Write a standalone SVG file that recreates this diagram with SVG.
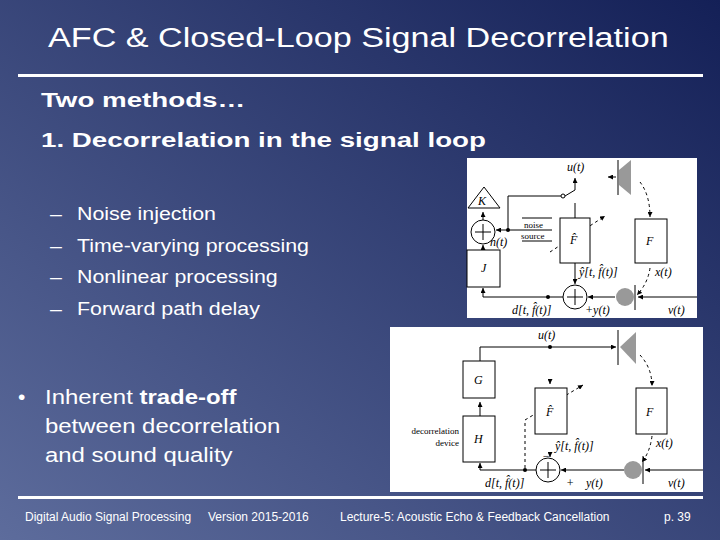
<svg xmlns="http://www.w3.org/2000/svg" width="720" height="540" viewBox="0 0 720 540">
<defs>
<linearGradient id="bg" x1="1" y1="0" x2="0" y2="1">
<stop offset="0" stop-color="#142057"/>
<stop offset="1" stop-color="#5d6c9c"/>
</linearGradient>
<marker id="a" viewBox="0 0 6 6" refX="6" refY="3" markerWidth="5" markerHeight="5" orient="auto"><path d="M0,0L6,3L0,6z" fill="#000"/></marker>
<style>
.t{font-family:"Liberation Sans",Arial,sans-serif;fill:#fff}
.b{font-weight:bold}
.f{font-family:"Liberation Serif",serif;font-style:italic;font-size:12px;fill:#000}
.s{font-family:"Liberation Serif",serif;font-size:9px;fill:#000}
.l{stroke:#000;stroke-width:1;fill:none}
.d{stroke:#000;stroke-width:1;fill:none;stroke-dasharray:3,3}
.bx{fill:#fff;stroke:#000;stroke-width:1}
</style>
</defs>
<rect width="720" height="540" fill="url(#bg)"/>
<text class="t" transform="translate(48,47) scale(1.22,1)" font-size="28">AFC &amp; Closed-Loop Signal Decorrelation</text>
<rect x="18" y="74" width="685" height="3" fill="#fff"/>
<g class="t b" font-size="21" transform="translate(41,0) scale(1.32,1)">
<text x="0" y="107">Two methods…</text>
<text x="0" y="147">1. Decorrelation in the signal loop</text>
</g>
<g class="t" font-size="19" transform="translate(50,0) scale(1.125,1)">
<text x="0" y="220">–</text><text x="24" y="220">Noise injection</text>
<text x="0" y="252">–</text><text x="24" y="252">Time-varying processing</text>
<text x="0" y="283">–</text><text x="24" y="283">Nonlinear processing</text>
<text x="0" y="315">–</text><text x="24" y="315">Forward path delay</text>
</g>
<text class="t" x="18" y="404" font-size="21">•</text>
<g class="t" font-size="21" transform="translate(45,0) scale(1.14,1)">
<text x="0" y="404">Inherent <tspan class="b">trade-off</tspan></text>
<text x="0" y="433">between decorrelation</text>
<text x="0" y="462">and sound quality</text>
</g>
<rect x="18" y="496" width="685" height="3" fill="#fff"/>
<g class="t" font-size="12">
<text x="25" y="521">Digital Audio Signal Processing</text>
<text x="208" y="521">Version 2015-2016</text>
<text x="340" y="521">Lecture-5: Acoustic Echo &amp; Feedback Cancellation</text>
<text x="664" y="521">p. 39</text>
</g>

<!-- Figure 1 -->
<rect x="467" y="158" width="230" height="160" fill="#fff"/>
<g id="fig1-connectors">
<path class="l" d="M483,220V212" marker-end="url(#a)"/>
<path class="l" d="M483,250V245" marker-end="url(#a)"/>
<path class="l" d="M508,230H496" marker-end="url(#a)"/>
<path class="l" d="M508,230H552"/>
<path class="l" d="M508,230V196H561"/>
<path class="l" d="M575,218V203M565,196L575,190M575,190V178" marker-end="url(#a)"/>
<path class="d" d="M550,252L605,216" marker-end="url(#a)"/>
<path class="l" d="M575,263V284" marker-end="url(#a)"/>
<path class="l" d="M697,297H638" marker-end="url(#a)"/>
<path class="l" d="M615,297H588" marker-end="url(#a)"/>
<path class="l" d="M563,297H483V288" marker-end="url(#a)"/>
<path class="l" d="M616,177H608" marker-end="url(#a)"/>
<path class="d" d="M640,182Q650,195 650,217" marker-end="url(#a)"/>
<path class="d" d="M650,268Q648,283 637,295" marker-end="url(#a)"/>
<circle cx="508" cy="230" r="2"/><circle cx="548" cy="297" r="2"/>
<circle cx="563" cy="196" r="2" fill="#fff" stroke="#000"/>
</g>
<g id="fig1-K"><path class="bx" d="M484,187L500,208H468z"/><text class="f" x="478" y="205">K</text></g>
<g id="fig1-sum1"><circle class="bx" cx="483" cy="232" r="12"/><path class="l" d="M475,232H491M483,224V240"/><text class="f" x="490" y="246" font-size="10">n(t)</text></g>
<g id="fig1-noise"><path class="l" d="M522,218H552M522,241H552"/><text class="s" x="524" y="228">noise</text><text class="s" x="521" y="239">source</text></g>
<g id="fig1-J"><rect class="bx" x="467" y="250" width="33" height="37"/><text class="f" x="481" y="272">J</text></g>
<g id="fig1-u"><text class="f" x="567" y="171">u(t)</text></g>
<g id="fig1-Fhat"><rect class="bx" x="560" y="218" width="30" height="45"/><text class="f" x="570" y="244">F̂</text></g>
<g id="fig1-spk"><path d="M619,170L631,160V195L619,185z" fill="#999"/><path class="l" d="M618,160V195"/></g>
<g id="fig1-F"><rect class="bx" x="635" y="219" width="32" height="44"/><text class="f" x="646" y="245">F</text></g>
<g id="fig1-mic"><circle cx="625" cy="297" r="9" fill="#999"/><path class="l" d="M635,285V310"/></g>
<g id="fig1-sum2"><circle class="bx" cx="575" cy="297" r="12"/><path class="l" d="M567,297H583M575,289V305"/></g>
<g id="fig1-labels">
<text class="f" x="579" y="276">ŷ[t, f̂(t)]</text>
<text class="f" x="655" y="276">x(t)</text>
<text class="f" x="512" y="314">d[t, f̂(t)]</text>
<text class="f" x="585" y="314">+y(t)</text>
<text class="f" x="668" y="314">v(t)</text>
</g>

<!-- Figure 2 -->
<rect x="390" y="327" width="313" height="165" fill="#fff"/>
<g id="fig2-connectors">
<path class="l" d="M480,361V347H616" marker-end="url(#a)"/>
<circle cx="550" cy="347" r="2"/>
<path class="l" d="M480,416V402" marker-end="url(#a)"/>
<path class="l" d="M703,470H645" marker-end="url(#a)"/>
<path class="l" d="M624,470H561" marker-end="url(#a)"/>
<path class="l" d="M536,470H480V463" marker-end="url(#a)"/>
<circle cx="525" cy="470" r="2"/>
<path class="d" d="M525,468V420L583,385" marker-end="url(#a)"/>
<path class="l" d="M550,380V384" marker-end="url(#a)"/>
<path class="l" d="M550,452V457" marker-end="url(#a)"/>
<path class="d" d="M640,355Q652,368 652,386" marker-end="url(#a)"/>
<path class="d" d="M652,436Q650,452 642,462" marker-end="url(#a)"/>
</g>
<g id="fig2-spk"><path d="M620,347L636,332V364z" fill="#999"/><path class="l" d="M618,330V365"/></g>
<g id="fig2-G"><rect class="bx" x="463" y="361" width="32" height="37"/><text class="f" x="474" y="384">G</text></g>
<g id="fig2-H"><rect class="bx" x="463" y="416" width="32" height="46"/><text class="f" x="474" y="443">H</text></g>
<g id="fig2-dev"><text class="s" x="459" y="434" text-anchor="end" font-size="10">decorrelation</text><text class="s" x="459" y="446" text-anchor="end" font-size="10">device</text></g>
<g id="fig2-Fhat"><rect class="bx" x="535" y="388" width="32" height="46"/><text class="f" x="546" y="416">F̂</text></g>
<g id="fig2-F"><rect class="bx" x="636" y="388" width="31" height="46"/><text class="f" x="646" y="416">F</text></g>
<g id="fig2-mic"><circle cx="633" cy="470" r="9" fill="#999"/><path class="l" d="M643,456V484"/></g>
<g id="fig2-sum"><circle class="bx" cx="548" cy="470" r="12"/><path class="l" d="M540,470H556M548,462V478"/></g>
<g id="fig2-labels">
<text class="f" x="538" y="339">u(t)</text>
<text class="f" x="555" y="450">ŷ[t, f̂(t)]</text>
<text class="f" x="656" y="447">x(t)</text>
<text class="f" x="485" y="487">d[t, f̂(t)]</text>
<text class="f" x="566" y="487">+</text>
<text class="f" x="586" y="487">y(t)</text>
<text class="f" x="668" y="487">v(t)</text>
<text class="f" x="542" y="460">−</text>
</g>
</svg>
